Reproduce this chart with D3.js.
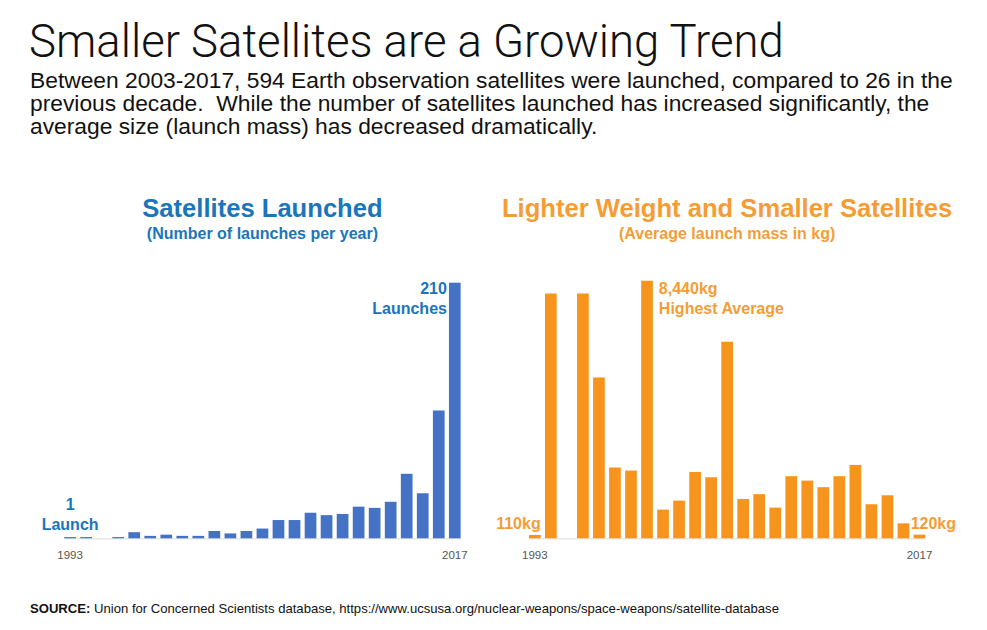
<!DOCTYPE html>
<html>
<head>
<meta charset="utf-8">
<script src="https://cdn.jsdelivr.net/npm/d3@7"></script>
<style>
body{margin:0;background:#fff;}
text{font-family:"Liberation Sans",Arial,sans-serif;}
</style>
</head>
<body>
<svg id="chart"></svg>
<script>
var w=987;
var h=630;
var years=[1993,1994,1995,1996,1997,1998,1999,2000,2001,2002,2003,2004,2005,2006,2007,2008,2009,2010,2011,2012,2013,2014,2015,2016,2017];
var launches=[1,1,0,1,5,2,3,2,2,6,4,6,8,15,15,21,19,20,26,25,30,53,37,105,210];
var massKg=[110,8020,0,8020,5270,2320,2220,8440,940,1235,2175,2000,6440,1290,1445,1005,2035,1890,1675,2035,2405,1115,1410,490,120];
var tickLabels=["1993","2017"];

var blue="#4472c4";
var blueText="#1b75bb";
var orange="#f7941d";
var orangeText="#f59d35";
var baseY=538.3;

var svg=d3.select("#chart")
          .attr("width",w)
          .attr("height",h);

// header
svg.append("text")
   .attr("x",29)
   .attr("y",57)
   .style("font-family","'Helvetica Neue',Roboto,sans-serif")
   .style("font-weight",300)
   .style("font-size","45.5px")
   .attr("fill","#111")
   .text("Smaller Satellites are a Growing Trend");
var para=["Between 2003-2017, 594 Earth observation satellites were launched, compared to 26 in the",
          "previous decade.  While the number of satellites launched has increased significantly, the",
          "average size (launch mass) has decreased dramatically."];
svg.append("g")
   .selectAll("text")
   .data(para)
   .enter()
   .append("text")
   .attr("x",30)
   .attr("y",function(d,i){return 88+i*23;})
   .style("font-size","22.8px")
   .style("white-space","pre")
   .attr("fill","#111")
   .text(function(d){return d;});

function drawChart(values,x0,x1,yTop,color,textColor,title,subtitle){
  var xScale=d3.scaleBand()
               .domain(years)
               .range([x0,x1])
               .paddingInner(0.27)
               .paddingOuter(0.135);
  var yScale=d3.scaleLinear()
               .domain([0,d3.max(values)])
               .range([baseY,yTop]);
  var g=svg.append("g");
  g.append("line")
   .attr("x1",xScale(years[0]))
   .attr("x2",xScale(years[years.length-1])+xScale.bandwidth())
   .attr("y1",baseY+0.5)
   .attr("y2",baseY+0.5)
   .attr("stroke","#ddd")
   .attr("stroke-width",1);
  g.selectAll("rect")
   .data(values)
   .enter()
   .append("rect")
   .attr("x",function(d,i){return xScale(years[i]);})
   .attr("y",function(d){return yScale(d);})
   .attr("width",xScale.bandwidth())
   .attr("height",function(d){return baseY-yScale(d);})
   .attr("fill",color);
  var xAxis=d3.axisBottom(xScale)
              .tickValues([years[0],years[years.length-1]])
              .tickFormat(function(d,i){return tickLabels[i];})
              .tickSize(0)
              .tickPadding(12);
  var ax=g.append("g")
          .attr("transform","translate(0,"+(baseY+0.5)+")")
          .call(xAxis);
  ax.select(".domain").remove();
  ax.selectAll("text")
    .style("font-family","'Liberation Sans',Arial,sans-serif")
    .style("font-size","11.5px")
    .attr("fill","#555");
  var cx=(x0+x1)/2;
  g.append("text")
   .attr("x",cx)
   .attr("y",217)
   .attr("text-anchor","middle")
   .style("font-weight","bold")
   .style("font-size","25.6px")
   .attr("fill",textColor)
   .text(title);
  g.append("text")
   .attr("x",cx)
   .attr("y",239)
   .attr("text-anchor","middle")
   .style("font-weight","bold")
   .style("font-size","16px")
   .attr("fill",textColor)
   .text(subtitle);
  return {x:xScale,y:yScale,g:g};
}

var left=drawChart(launches,62.1,462.8,282.7,blue,blueText,"Satellites Launched","(Number of launches per year)");
var right=drawChart(massKg,526.8,927.5,280.7,orange,orangeText,"Lighter Weight and Smaller Satellites","(Average launch mass in kg)");

function note(g,x,y,anchor,color,lines){
  g.append("g")
   .selectAll("text")
   .data(lines)
   .enter()
   .append("text")
   .attr("x",x)
   .attr("y",function(d,i){return y+i*19.5;})
   .attr("text-anchor",anchor)
   .style("font-weight","bold")
   .style("font-size","16px")
   .attr("fill",color)
   .text(function(d){return d;});
}
var lb=left.x.bandwidth();
note(left.g,left.x(years[0])+lb/2,510,"middle",blueText,[launches[0],"Launch"]);
note(left.g,left.x(years[24])-2,294,"end",blueText,[launches[24],"Launches"]);
note(right.g,right.x(years[0])+lb,529,"end",orangeText,[massKg[0]+"kg"]);
note(right.g,right.x(years[24])-3,529,"start",orangeText,[massKg[24]+"kg"]);
note(right.g,right.x(years[7])+right.x.bandwidth()+6,294,"start",orangeText,[d3.format(",")(massKg[7])+"kg","Highest Average"]);

// source
var src=svg.append("text")
           .attr("x",30)
           .attr("y",613)
           .style("font-size","13.1px")
           .attr("fill","#111");
src.append("tspan").style("font-weight","bold").text("SOURCE:");
src.append("tspan").text(" Union for Concerned Scientists database, https://www.ucsusa.org/nuclear-weapons/space-weapons/satellite-database");
</script>
</body>
</html>
